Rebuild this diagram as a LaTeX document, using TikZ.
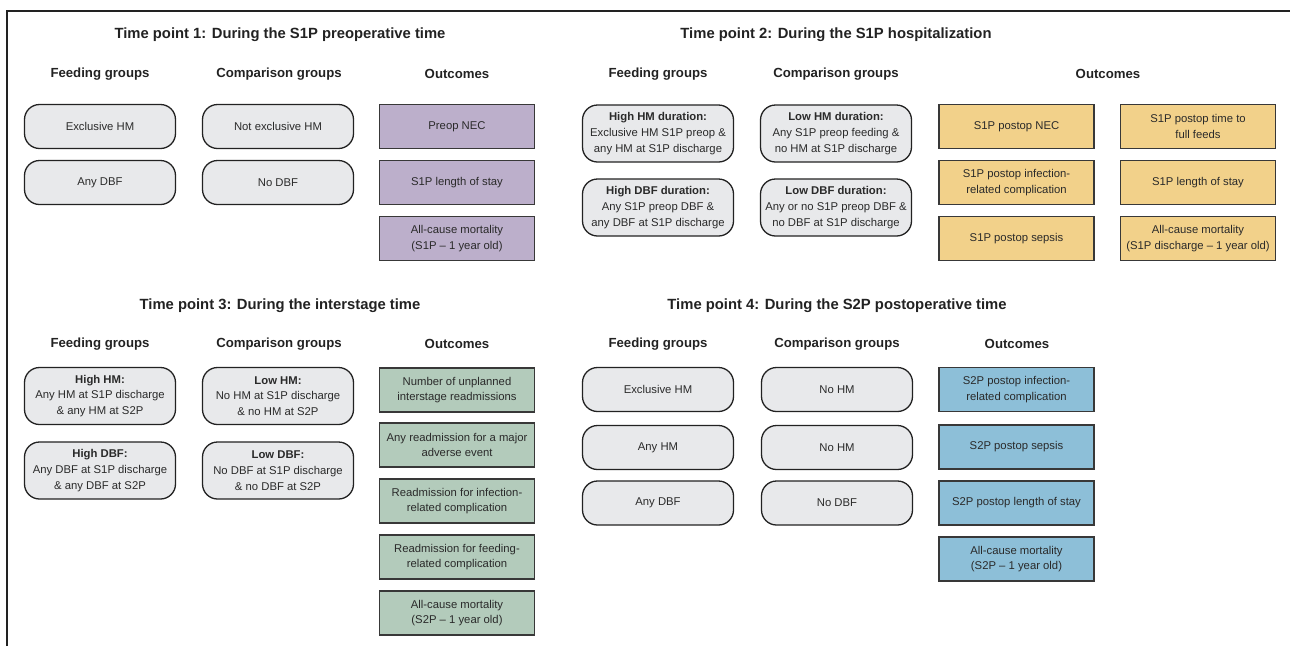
\documentclass[tikz,border=0pt]{standalone}
\usepackage{fontspec}
\setmainfont{Liberation Sans}
\definecolor{boxgray}{HTML}{E8E9EB}
\definecolor{purp}{HTML}{BCAFCB}
\definecolor{yell}{HTML}{F2D18A}
\definecolor{gren}{HTML}{B3CBBB}
\definecolor{blu}{HTML}{8DBFD8}
\definecolor{ink}{HTML}{222222}
\definecolor{txt}{HTML}{2A2A2A}
\tikzset{
  title/.style={font=\fontsize{14.8}{17}\selectfont\bfseries, text=ink, inner sep=0pt},
  head/.style={font=\fontsize{13.2}{15}\selectfont\bfseries, text=ink, inner sep=0pt},
  grp/.style={draw=ink, line width=1.3pt, fill=boxgray, rounded corners=15pt,
    minimum width=151pt, minimum height=44pt, align=center, inner sep=1pt,
    font=\fontsize{11.3}{15.8}\selectfont, text=txt},
  tallgrp/.style={grp, minimum height=57pt},
  outc/.style={draw=ink!90, line width=1.2pt, fill=#1, minimum width=155pt,
    minimum height=44pt, align=center, inner sep=1pt,
    font=\fontsize{11.3}{15.8}\selectfont, text=txt},
}
\begin{document}
\begin{tikzpicture}[x=1pt,y=-1pt]
\useasboundingbox (0,0) rectangle (1290,646);
% frame
\draw[line width=2pt, ink] (7,646) -- (7,10.5) -- (1290,10.5);

% ---------- Time point 1 ----------
\node[title] (t1) at (280,35) {Time point 1: During the S1P preoperative time};
\node[head] (h1a) at (100,74) {Feeding groups};
\node[head] (h1b) at (279,74) {Comparison groups};
\node[head] (h1c) at (457,74) {Outcomes};
\node[grp] (f11) at (100,126.5) {Exclusive HM};
\node[grp] (f12) at (100,182.5) {Any DBF};
\node[grp] (c11) at (278,126.5) {Not exclusive HM};
\node[grp] (c12) at (278,182.5) {No DBF};
\node[outc=purp] (o11) at (457,126.5) {Preop NEC};
\node[outc=purp] (o12) at (457,182.5) {S1P length of stay};
\node[outc=purp] (o13) at (457,238.5) {All-cause mortality\\(S1P – 1 year old)};

% ---------- Time point 2 ----------
\node[title] (t2) at (836,35) {Time point 2: During the S1P hospitalization};
\node[head] (h2a) at (658,74) {Feeding groups};
\node[head] (h2b) at (836,74) {Comparison groups};
\node[head] (h2c) at (1108,74) {Outcomes};
\node[tallgrp] (f21) at (658,133.5) {\textbf{High HM duration:}\\Exclusive HM S1P preop \&\\any HM at S1P discharge};
\node[tallgrp] (f22) at (658,207.5) {\textbf{High DBF duration:}\\Any S1P preop DBF \&\\any DBF at S1P discharge};
\node[tallgrp] (c21) at (836,133.5) {\textbf{Low HM duration:}\\Any S1P preop feeding \&\\no HM at S1P discharge};
\node[tallgrp] (c22) at (836,207.5) {\textbf{Low DBF duration:}\\Any or no S1P preop DBF \&\\no DBF at S1P discharge};
\node[outc=yell] (o21) at (1016.5,126.5) {S1P postop NEC};
\node[outc=yell] (o22) at (1016.5,182.5) {S1P postop infection-\\related complication};
\node[outc=yell] (o23) at (1016.5,238.5) {S1P postop sepsis};
\node[outc=yell] (o24) at (1198,126.5) {S1P postop time to\\full feeds};
\node[outc=yell] (o25) at (1198,182.5) {S1P length of stay};
\node[outc=yell] (o26) at (1198,238.5) {All-cause mortality\\(S1P discharge – 1 year old)};

% ---------- Time point 3 ----------
\node[title] (t3) at (280,306) {Time point 3: During the interstage time};
\node[head] (h3a) at (100,344) {Feeding groups};
\node[head] (h3b) at (279,344) {Comparison groups};
\node[head] (h3c) at (457,344) {Outcomes};
\node[tallgrp] (f31) at (100,396) {\textbf{High HM:}\\Any HM at S1P discharge\\\& any HM at S2P};
\node[tallgrp] (f32) at (100,470.5) {\textbf{High DBF:}\\Any DBF at S1P discharge\\\& any DBF at S2P};
\node[tallgrp] (c31) at (278,396) {\textbf{Low HM:}\\No HM at S1P discharge\\\& no HM at S2P};
\node[tallgrp] (c32) at (278,470.5) {\textbf{Low DBF:}\\No DBF at S1P discharge\\\& no DBF at S2P};
\node[outc=gren] (o31) at (457,390) {Number of unplanned\\interstage readmissions};
\node[outc=gren] (o32) at (457,445) {Any readmission for a major\\adverse event};
\node[outc=gren] (o33) at (457,501) {Readmission for infection-\\related complication};
\node[outc=gren] (o34) at (457,557) {Readmission for feeding-\\related complication};
\node[outc=gren] (o35) at (457,613) {All-cause mortality\\(S2P – 1 year old)};

% ---------- Time point 4 ----------
\node[title] (t4) at (837,306) {Time point 4: During the S2P postoperative time};
\node[head] (h4a) at (658,344) {Feeding groups};
\node[head] (h4b) at (837,344) {Comparison groups};
\node[head] (h4c) at (1017,344) {Outcomes};
\node[grp] (f41) at (658,389.5) {Exclusive HM};
\node[grp] (f42) at (658,447.5) {Any HM};
\node[grp] (f43) at (658,503) {Any DBF};
\node[grp] (c41) at (837,389.5) {No HM};
\node[grp] (c42) at (837,447.5) {No HM};
\node[grp] (c43) at (837,503) {No DBF};
\node[outc=blu] (o41) at (1016.5,389.5) {S2P postop infection-\\related complication};
\node[outc=blu] (o42) at (1016.5,447) {S2P postop sepsis};
\node[outc=blu] (o43) at (1016.5,503) {S2P postop length of stay};
\node[outc=blu] (o44) at (1016.5,559) {All-cause mortality\\(S2P – 1 year old)};
\end{tikzpicture}
\end{document}
